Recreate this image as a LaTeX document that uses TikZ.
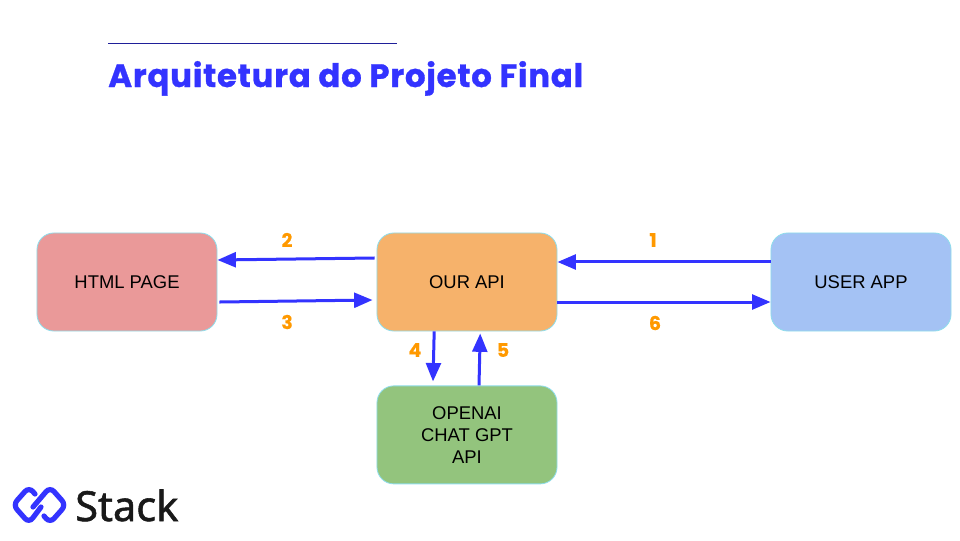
\documentclass[tikz,border=0pt]{standalone}
\usepackage{fontspec}
\setmainfont{Liberation Sans}
\newfontfamily\titlefont[BoldFeatures={FakeBold=0.9,LetterSpace=2.4}]{Poppins}
\newfontfamily\numfont[BoldFeatures={FakeBold=0.5}]{Poppins}
\newfontfamily\logofont[FakeBold=1.3]{Noto Sans}
\usetikzlibrary{positioning,arrows.meta}
\definecolor{stackblue}{HTML}{3333FF}
\definecolor{stepnum}{HTML}{FF9900}
\definecolor{boxline}{HTML}{8FDDEB}
\tikzset{
	box/.style = {draw=boxline, semithick, rounded corners=0.42cm, minimum width=4.5cm, minimum height=2.45cm, align=center, inner sep=0pt, font={\fontsize{13.1}{15.6}\selectfont}},
	flow/.style = {-{Triangle[length=0.46cm,width=0.37cm]}, line width=0.075cm, draw=stackblue},
	num/.style = {text=stepnum, font={\numfont\bfseries\fontsize{13.5}{15}\selectfont}},
}
\begin{document}
\begin{tikzpicture}[x=0.025cm,y=-0.025cm]
	\useasboundingbox (0,0) rectangle (960,540);

	\draw[stackblue!60!black, thin] (108,43.5) -- (397,43.5);
	\node[anchor=base west, inner sep=0pt, text=stackblue] (title) at (108,87) {\titlefont\bfseries\fontsize{23}{26}\selectfont Arquitetura do Projeto Final};

	\node[box, fill={rgb,255:red,234;green,153;blue,153}] (html) at (127,282) {HTML PAGE};
	\node[box, fill={rgb,255:red,246;green,178;blue,107}] (api) at (467,282) {OUR API};
	\node[box, fill={rgb,255:red,164;green,194;blue,244}] (user) at (861,282) {USER APP};
	\node[box, fill={rgb,255:red,147;green,196;blue,125}, below=1.35cm of api] (openai) {OPENAI\\CHAT GPT\\API};

	\draw[flow] ([xshift=-0.05cm,yshift=0.6cm]api.west) to ([yshift=0.55cm]html.east);
	\draw[flow] ([xshift=0.05cm,yshift=-0.5cm]html.east) to ([xshift=-0.1cm,yshift=-0.45cm]api.west);
	\draw[flow] ([yshift=0.5cm]user.west) to ([yshift=0.5cm]api.east);
	\draw[flow] ([yshift=-0.5cm]api.east) to ([yshift=-0.5cm]user.west);
	\draw[flow] ([xshift=-0.82cm]api.south) to ([xshift=-0.85cm,yshift=0.1cm]openai.north);
	\draw[flow] ([xshift=0.3cm]openai.north) to ([xshift=0.33cm,yshift=-0.05cm]api.south);

	\node[num] (n1) at (653,240) {1};
	\node[num] (n2) at (287,240) {2};
	\node[num] (n3) at (287,322) {3};
	\node[num] (n4) at (415,350) {4};
	\node[num] (n5) at (503,350) {5};
	\node[num] (n6) at (655,323) {6};

	% logo
	\draw[stackblue, line width=0.13cm, line cap=round, rounded corners=0.15cm] (35,494) -- (29,487) -- (13,505) -- (29,523) -- (41,507);
	\draw[stackblue, line width=0.13cm, line cap=round, rounded corners=0.15cm] (44,516) -- (50,523) -- (66,505) -- (50,487) -- (33,507);
	\node[anchor=base west, inner sep=0pt, text=black!90] (stack) at (75,521) {\logofont\fontsize{29.5}{31}\selectfont Stack};
\end{tikzpicture}
\end{document}
